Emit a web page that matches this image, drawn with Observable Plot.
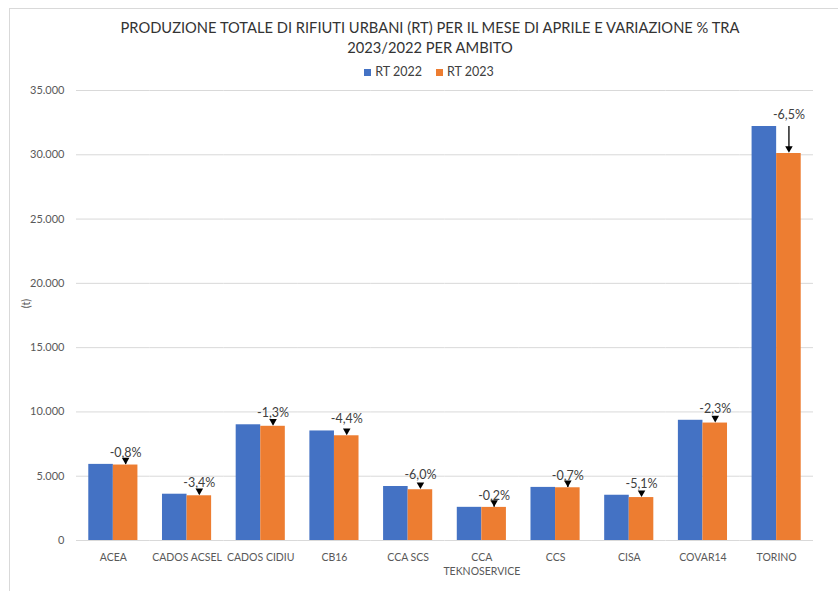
<!DOCTYPE html>
<html><head><meta charset="utf-8">
<script src="https://cdn.jsdelivr.net/npm/d3@7"></script>
<script src="https://cdn.jsdelivr.net/npm/@observablehq/plot@0.6"></script>
<style>
body{margin:0;background:#fff;font-family:Lato,"Open Sans",sans-serif;}
#wrap{position:relative;width:838px;height:591px;overflow:hidden;background:#fff;}
#frame{position:absolute;left:9px;top:8px;width:900px;height:700px;border-left:1px solid #d9d9d9;border-top:1px solid #d9d9d9;}
#title{position:absolute;top:17px;left:0;width:860px;text-align:center;font-size:14.7px;line-height:20px;color:#333;}
#legend{position:absolute;top:64px;left:0;width:858px;text-align:center;font-size:12.5px;color:#404040;}
#legend span.item{display:inline-block;margin:0 7px;}
#legend span.sw{display:inline-block;width:7px;height:7px;margin-right:4px;vertical-align:0px;}
#ylab{position:absolute;left:21px;top:297px;font-size:11px;color:#595959;transform:rotate(-90deg);transform-origin:center;}
#chart{position:absolute;left:0;top:80px;}
</style></head>
<body>
<div id="wrap">
<div id="frame"></div>
<div id="title">PRODUZIONE TOTALE DI RIFIUTI URBANI (RT) PER IL MESE DI APRILE E VARIAZIONE % TRA<br>2023/2022 PER AMBITO</div>
<div id="legend"></div>
<div id="ylab">(t)</div>
<div id="chart"></div>
</div>
<script>
const categories = ["ACEA","CADOS ACSEL","CADOS CIDIU","CB16","CCA SCS","CCA TEKNOSERVICE","CCS","CISA","COVAR14","TORINO"];
const tickLabels = ["ACEA","CADOS ACSEL","CADOS CIDIU","CB16","CCA SCS","CCA\nTEKNOSERVICE","CCS","CISA","COVAR14","TORINO"];
const series = ["RT 2022","RT 2023"];
const colors = ["#4472C4","#ED7D31"];
const rt2022 = [5920, 3600, 9000, 8520, 4200, 2580, 4130, 3520, 9350, 32200];
const rt2023 = [5870, 3478, 8883, 8145, 3948, 2575, 4101, 3340, 9135, 30100];
const variations = ["-0,8%","-3,4%","-1,3%","-4,4%","-6,0%","-0,2%","-0,7%","-5,1%","-2,3%","-6,5%"];
const yTicks = [0,5000,10000,15000,20000,25000,30000,35000];

const rows = [];
categories.forEach((c,i)=>{
  rows.push({category:c, series:series[0], value:rt2022[i]});
  rows.push({category:c, series:series[1], value:rt2023[i]});
});
const ann = categories.map((c,i)=>({category:c, series:series[1], v22:rt2022[i], v23:rt2023[i], label:variations[i]}));

const legend = document.getElementById("legend");
legend.innerHTML = series.map((s,i)=>`<span class="item"><span class="sw" style="background:${colors[i]}"></span>${s}</span>`).join("");

const fmt = d => d3.format(",")(d).replace(/,/g,".");

const chart = Plot.plot({
  width: 838, height: 511,
  marginTop: 10, marginBottom: 51, marginLeft: 76, marginRight: 25,
  fx: {domain: categories, paddingInner: 0, paddingOuter: 0, round: false},
  x: {domain: series, paddingInner: 0, paddingOuter: 0.5, round: false, axis: null},
  y: {domain: [0, 35000]},
  color: {domain: series, range: colors},
  style: {fontFamily: "Lato, 'Open Sans', sans-serif", fontSize: "11px", color: "#595959", background: "transparent"},
  marks: [
    Plot.gridY(yTicks, {stroke: "#d9d9d9", strokeOpacity: 1}),
    Plot.axisY({ticks: yTicks, tickSize: 0, tickPadding: 12, tickFormat: fmt, label: null, fontSize: 11}),
    Plot.axisFx({anchor: "bottom", tickSize: 0, tickPadding: 11, lineHeight: 1.3, label: null, fontSize: 10.5,
      tickFormat: d => tickLabels[categories.indexOf(d)]}),
    Plot.barY(rows, {fx: "category", x: "series", y: "value", fill: "series"}),
    Plot.ruleX(ann, {fx: "category", x: "series", y1: "v22", y2: "v23", stroke: "#000", strokeWidth: 1.3, insetBottom: 5}),
    Plot.dot(ann, {fx: "category", x: "series", y: "v23", symbol: "triangle", rotate: 180, r: 2.8, fill: "#000", stroke: "none", dy: -5}),
    Plot.text(ann, {fx: "category", x: "series", y: "v22", text: "label", dy: -11.5, fill: "#404040", fontSize: 12.5})
  ]
});
document.getElementById("chart").appendChild(chart);
</script>
</body></html>
